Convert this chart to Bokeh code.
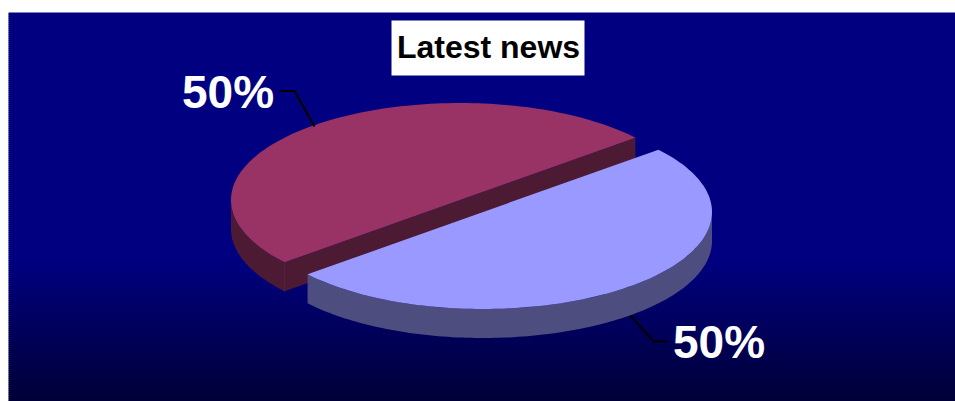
import numpy as np
from bokeh.core.properties import value
from bokeh.embed import file_html
from bokeh.models import ColumnDataSource, Range1d
from bokeh.plotting import figure
from bokeh.resources import INLINE

# Chart content
title = "Latest news"
categories = ["Other news", "Latest news"]
shares = [50, 50]
share_labels = ["50%", "50%"]
top_colors = ["#993366", "#9999ff"]
side_colors = ["#4d1a33", "#4d4d80"]

W, H = 955, 401
p = figure(width=W, height=H, output_backend="svg", toolbar_location=None,
           x_range=Range1d(0, W), y_range=Range1d(H, 0),
           min_border=0, outline_line_color=None, background_fill_color="white",
           border_fill_color="white")
p.axis.visible = False
p.grid.visible = False

# Backdrop: flat navy, fading darker towards the bottom edge
BG_LEFT, BG_TOP = 8, 12
NAVY = np.array([0, 0, 128])
DARK = np.array([0, 0, 54])
FADE_START = 258
rows = np.arange(BG_TOP, H, 2)
fracs = np.clip((rows - FADE_START) / (H - FADE_START), 0, 1)
cols = ["#%02x%02x%02x" % tuple(int(round(c)) for c in NAVY + (DARK - NAVY) * f) for f in fracs]
p.quad(left=BG_LEFT, right=W, top=rows, bottom=rows + 2.5, fill_color=cols, line_color=None)

# Projected pie geometry
RX, RY, DEPTH = 229, 97, 29
CX, CY = 459.5, 199.5
EXPLODE = (23, 12)
CUT_ANGLE = np.radians(40)


def rim(cx, cy, start, end, n=120):
    t = np.linspace(start, end, n)
    return cx + RX * np.cos(t), cy + RY * np.sin(t)


def slice_spans(values):
    # Angles run counter-clockwise on screen from the cut line
    total = sum(values)
    spans = []
    a = -CUT_ANGLE
    for v in values:
        sweep = 2 * np.pi * v / total
        spans.append((a - sweep, a))
        a -= sweep
    return spans


spans = slice_spans(shares)

# Red slice: outer wall, cut face, top
s, e = spans[0]
ox, oy = rim(CX, CY, np.pi - CUT_ANGLE, np.pi)
p.patch(np.concatenate([ox, ox[::-1]]), np.concatenate([oy, oy[::-1] + DEPTH]),
        fill_color=side_colors[0], line_color=None)

x0, y0 = CX + RX * np.cos(e), CY + RY * np.sin(e)
x1, y1 = CX + RX * np.cos(s), CY + RY * np.sin(s)
p.patch([x0, x1, x1, x0], [y0, y1, y1 + DEPTH, y0 + DEPTH],
        fill_color=side_colors[0], line_color=None)
tx, ty = rim(CX, CY, s, e)
p.patch(tx, ty, fill_color=top_colors[0], line_color=None)
p.line([x1, x1], [y1, y1 + DEPTH], line_color="#5a2040", line_width=1)

# Blue slice, pulled away from the centre
s, e = spans[1]
cx, cy = CX + EXPLODE[0], CY + EXPLODE[1]
ox, oy = rim(cx, cy, 0, np.pi - CUT_ANGLE)
p.patch(np.concatenate([ox, ox[::-1]]), np.concatenate([oy, oy[::-1] + DEPTH]),
        fill_color=side_colors[1], line_color=None)
tx, ty = rim(cx, cy, s, e)
p.patch(tx, ty, fill_color=top_colors[1], line_color=None)

# Leader lines
p.line([314, 294, 279], [126, 90.5, 90.5], line_color="black", line_width=2.2)
p.line([630, 653, 667], [315, 341, 341], line_color="black", line_width=2.2)

# Percentage labels
labels = ColumnDataSource(dict(x=[227.5, 718.5], y=[91, 341], text=share_labels))
p.text("x", "y", "text", source=labels, text_color="white", text_font_size="46px",
       text_font=value("Liberation Sans"), text_font_style="bold",
       text_align="center", text_baseline="middle")

# Title box
p.quad(left=391, right=584, top=20, bottom=75, fill_color="white", line_color=None)
p.text([488], [46.5], [title], text_color="black", text_font_size="32px",
       text_font=value("Liberation Sans"), text_font_style="bold",
       text_align="center", text_baseline="middle")

open("out.html", "w").write(file_html(p, INLINE))
